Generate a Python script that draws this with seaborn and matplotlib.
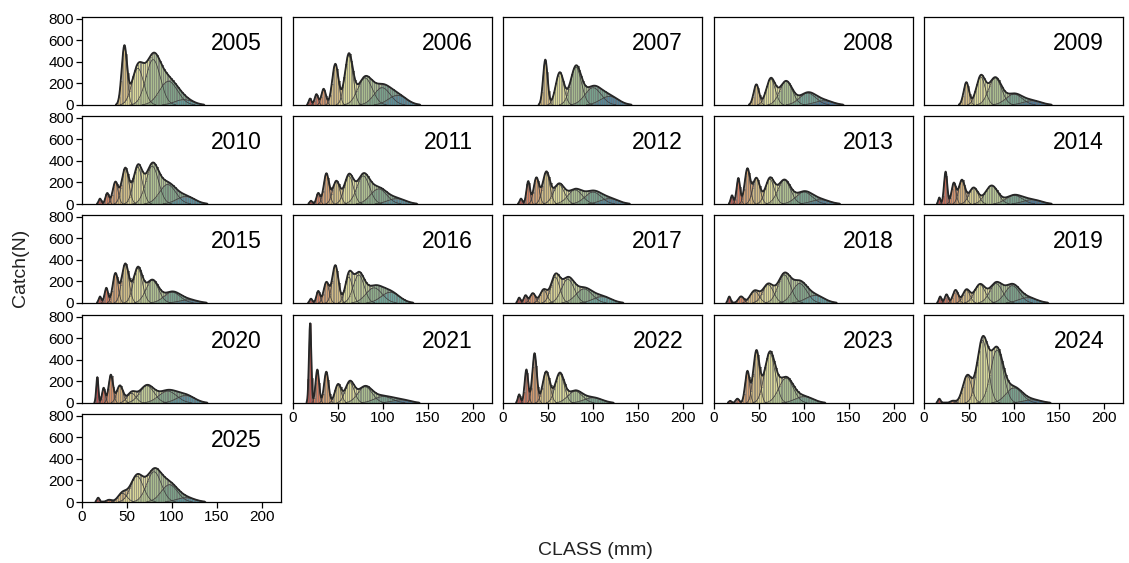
import numpy as np
import pandas as pd
import matplotlib
matplotlib.use("Agg")
import matplotlib.pyplot as plt
import seaborn as sns
from matplotlib.colors import LinearSegmentedColormap, Normalize

sns.set_theme(style="white")
plt.rcParams['font.family'] = ['Liberation Sans', 'DejaVu Sans']

YEARS = list(range(2005, 2026))
X_TICKS = [0, 50, 100, 150, 200]
Y_TICKS = [0, 200, 400, 600, 800]

# Cohort components: mean length (mm), spread (mm), peak catch (N)
COMP_MEAN = {
    2005: [47, 62, 79, 96, 113],
    2006: [19, 26, 34, 47, 62, 80, 99, 116],
    2007: [47, 63, 81, 100, 118],
    2008: [47, 63, 80, 104, 122],
    2009: [47, 63, 79, 100, 120],
    2010: [20, 28, 37, 48, 62, 78, 95, 115],
    2011: [20, 28, 37, 48, 62, 78, 95, 115],
    2012: [20, 28, 37, 48, 62, 80, 100, 118],
    2013: [20, 27, 37, 47, 62, 78, 100, 118],
    2014: [17, 24, 33, 42, 55, 75, 100, 120],
    2015: [20, 27, 37, 48, 62, 78, 100, 118],
    2016: [20, 28, 37, 47, 62, 73, 90, 108],
    2017: [18, 25, 33, 45, 58, 72, 90, 110],
    2018: [17, 30, 45, 60, 78, 95, 112],
    2019: [18, 25, 35, 47, 62, 80, 98, 115],
    2020: [17, 24, 32, 42, 55, 72, 95, 115],
    2021: [19, 27, 37, 50, 63, 80, 100, 120],
    2022: [18, 26, 35, 48, 63, 80, 100],
    2023: [18, 26, 37, 47, 62, 80, 100],
    2024: [17, 32, 48, 65, 81, 100, 120],
    2025: [18, 30, 45, 61, 80, 97, 115],
}
COMP_SD = {
    2005: [3, 6.5, 8, 10, 10],
    2006: [1.5, 2, 2.5, 3.5, 4.5, 8, 9, 10],
    2007: [2.5, 4.5, 6, 9, 10],
    2008: [3, 5, 7, 9, 10],
    2009: [3, 5, 7, 9, 10],
    2010: [1.5, 2, 3, 4, 5, 7, 9, 10],
    2011: [1.5, 2, 3, 4, 5, 7, 9, 10],
    2012: [1.5, 2, 3, 4, 6, 8, 9, 10],
    2013: [1.5, 2, 3, 4, 5, 7, 9, 10],
    2014: [1.2, 1.8, 2.5, 3.5, 5, 7, 9, 10],
    2015: [1.5, 2, 3, 4, 5, 7, 9, 10],
    2016: [1.5, 2, 3, 3.5, 4, 6, 9, 10],
    2017: [1.5, 2, 3, 4, 5, 7, 9, 10],
    2018: [1.5, 3, 5, 6, 7, 8, 10],
    2019: [1.5, 2, 3, 4, 6, 7, 8, 10],
    2020: [1.2, 1.8, 2.5, 3.5, 5, 8, 10, 10],
    2021: [1.3, 2, 2.5, 3.5, 5, 8, 10, 10],
    2022: [1.5, 2, 2.5, 4, 5, 8, 10],
    2023: [1.5, 2, 2.5, 3.5, 6, 8, 10],
    2024: [1.5, 3, 5, 6, 7, 9, 10],
    2025: [1.5, 3, 5, 7, 8, 9, 10],
}
COMP_PEAK = {
    2005: [530, 340, 420, 220, 50],
    2006: [60, 100, 150, 380, 460, 250, 160, 90],
    2007: [420, 300, 350, 160, 80],
    2008: [190, 240, 220, 110, 40],
    2009: [210, 260, 250, 100, 40],
    2010: [50, 100, 200, 330, 340, 350, 180, 70],
    2011: [30, 100, 280, 210, 260, 260, 140, 50],
    2012: [50, 210, 240, 290, 180, 130, 110, 50],
    2013: [80, 240, 320, 240, 230, 220, 110, 40],
    2014: [60, 300, 190, 220, 150, 170, 80, 40],
    2015: [60, 140, 270, 360, 320, 210, 100, 30],
    2016: [40, 110, 190, 350, 240, 260, 140, 100],
    2017: [50, 70, 90, 120, 240, 220, 130, 60],
    2018: [60, 60, 110, 170, 260, 180, 70],
    2019: [60, 80, 120, 120, 170, 180, 160, 50],
    2020: [240, 140, 260, 160, 90, 160, 110, 70],
    2021: [740, 310, 290, 170, 190, 150, 60, 30],
    2022: [80, 310, 460, 290, 270, 110, 50],
    2023: [20, 40, 290, 470, 460, 230, 60],
    2024: [40, 20, 250, 580, 490, 140, 30],
    2025: [40, 20, 80, 240, 280, 160, 40],
}

# muted spectral-like cohort colours (small -> large)
cmap = LinearSegmentedColormap.from_list(
    "coh", ["#a33a3f", "#cf7353", "#cfa06c", "#cdbf80", "#d9d692",
            "#b3c28a", "#8eaa80", "#70997f", "#5f9f9a", "#3a6890"])
norm = Normalize(15, 122)

FIG_W, FIG_H = 1129, 563
fig = plt.figure(figsize=(FIG_W / 100, FIG_H / 100), dpi=100)
col_left = [82, 293, 503, 714, 924]
row_top = [17, 116, 215, 315, 414]
pw, ph = 199, 88

centers = np.arange(11, 150, 2.0)
xs = np.linspace(8, 160, 700)

for i, yr in enumerate(YEARS):
    r, c = divmod(i, 5)
    ax = fig.add_axes([col_left[c] / FIG_W, 1 - (row_top[r] + ph) / FIG_H, pw / FIG_W, ph / FIG_H])
    mus, sds, pks = COMP_MEAN[yr], COMP_SD[yr], COMP_PEAK[yr]
    rows = []
    pal = {}
    order = []
    for k, (m, s, p) in enumerate(zip(mus, sds, pks)):
        lab = f"c{k}"
        order.append(lab)
        pal[lab] = cmap(norm(m))
        vals = p * np.exp(-0.5 * ((centers - m) / s) ** 2)
        for xc, v in zip(centers, vals):
            rows.append((xc, v, lab))
    df = pd.DataFrame(rows, columns=["x", "n", "comp"])
    sns.histplot(data=df, x="x", weights="n", hue="comp", hue_order=order, multiple="stack",
                 binwidth=2, binrange=(10, 150), palette=pal, alpha=0.9,
                 edgecolor="#707070", linewidth=0.45, legend=False, ax=ax)
    env = np.zeros_like(xs)
    for m, s, p in zip(mus, sds, pks):
        d = p * np.exp(-0.5 * ((xs - m) / s) ** 2)
        env += d
        ax.fill_between(xs, 0, d, color=cmap(norm(m)), alpha=0.22, lw=0)
        msk = d > 3
        ax.plot(xs[msk], d[msk], color="#3a3a3a", lw=0.5)
    mask = env > 4
    sns.lineplot(x=xs[mask], y=env[mask], color="#262626", lw=1.3, ax=ax)
    ax.set_xlim(0, 221)
    ax.set_ylim(0, 815)
    ax.set_xlabel("")
    ax.set_ylabel("")
    ax.set_xticks(X_TICKS)
    ax.set_yticks(Y_TICKS)
    for sp in ax.spines.values():
        sp.set_color("black")
        sp.set_linewidth(0.9)
    bottom = (r == 3 and c > 0) or r == 4
    left = c == 0
    ax.tick_params(axis="x", bottom=bottom, labelbottom=bottom, direction="out", length=4,
                   width=0.9, color="black", labelsize=11, pad=2, labelcolor="black")
    ax.tick_params(axis="y", left=left, labelleft=left, direction="out", length=4,
                   width=0.9, color="black", labelsize=11, pad=2, labelcolor="black")
    ax.text(0.905, 0.70, str(yr), transform=ax.transAxes, ha="right", va="center",
            fontsize=16.5, color="black")

fig.text(0.018, 0.524, "Catch(N)", rotation=90, ha="center", va="center", fontsize=14, color="#222")
fig.text(0.527, 0.023, "CLASS (mm)", ha="center", va="center", fontsize=14, color="#222")
fig.savefig("out.png", dpi=100)
